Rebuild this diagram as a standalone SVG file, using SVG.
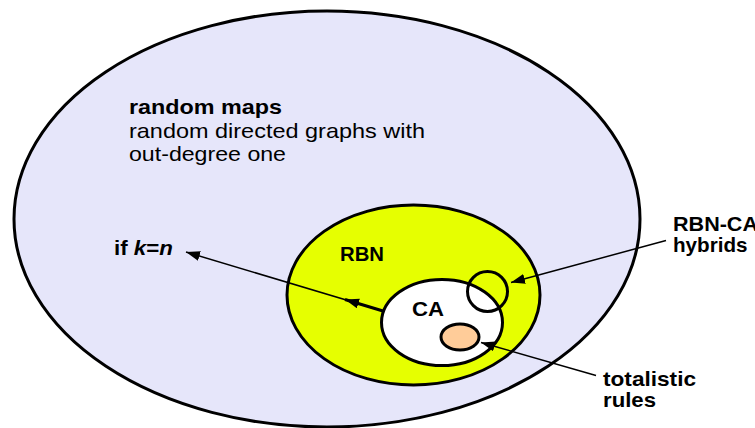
<svg xmlns="http://www.w3.org/2000/svg" width="755" height="428" viewBox="0 0 755 428">
<style>
.sh{stroke:#000;stroke-width:3}
.t{font-family:"Liberation Sans",Arial,sans-serif;font-size:21px;fill:#000}
.b{font-weight:bold}
.ln{stroke:#000;stroke-width:1.5;fill:none}
</style>
<defs>
<marker id="ah" markerUnits="userSpaceOnUse" markerWidth="15" markerHeight="11" refX="14" refY="5" orient="auto">
<path d="M0,0 L14,5 L0,10 z" fill="#000"/>
</marker>
</defs>
<rect width="755" height="428" fill="#fff"/>
<g id="random-maps">
<ellipse class="sh" cx="327" cy="219" rx="313" ry="208" fill="#E6E6FA"/>
<text class="t b" x="129" y="114" textLength="153" lengthAdjust="spacingAndGlyphs">random maps</text>
<text class="t" x="129" y="137.5" textLength="296" lengthAdjust="spacingAndGlyphs">random directed graphs with</text>
<text class="t" x="129" y="161" textLength="157" lengthAdjust="spacingAndGlyphs">out-degree one</text>
</g>
<g id="rbn">
<ellipse class="sh" cx="413.5" cy="295" rx="126.5" ry="90" fill="#E6FF00"/>
<text class="t b" x="340" y="260.5" textLength="44" lengthAdjust="spacingAndGlyphs">RBN</text>
</g>
<g id="ca">
<ellipse class="sh" cx="442" cy="322.5" rx="60.5" ry="43" fill="#fff"/>
<text class="t b" x="412" y="315.5" textLength="32" lengthAdjust="spacingAndGlyphs">CA</text>
</g>
<g id="totalistic">
<ellipse class="sh" cx="460" cy="337" rx="19" ry="13" fill="#FFCC99"/>
<text class="t b" x="603" y="385.5" textLength="93" lengthAdjust="spacingAndGlyphs">totalistic</text>
<text class="t b" x="603" y="406.5" textLength="53" lengthAdjust="spacingAndGlyphs">rules</text>
</g>
<g id="hybrids">
<ellipse class="sh" cx="487.5" cy="291.5" rx="20" ry="20" fill="none"/>
<text class="t b" x="673" y="231" textLength="85" lengthAdjust="spacingAndGlyphs">RBN-CA</text>
<text class="t b" x="673" y="252.3" textLength="74.5" lengthAdjust="spacingAndGlyphs">hybrids</text>
</g>
<g id="if-k-n">
<text class="t b" x="114" y="254.5" textLength="59" lengthAdjust="spacingAndGlyphs">if <tspan font-style="italic">k</tspan>=<tspan font-style="italic">n</tspan></text>
</g>
<g id="connectors">
<line class="ln" x1="383" y1="311" x2="186" y2="252" marker-end="url(#ah)"/>
<line x1="383" y1="311" x2="345" y2="299.5" stroke="#000" stroke-width="3" marker-end="url(#ah)"/>
<line class="ln" x1="666" y1="240.5" x2="511" y2="282.5" marker-end="url(#ah)"/>
<line class="ln" x1="596" y1="375.5" x2="481" y2="342.5" marker-end="url(#ah)"/>
</g>
</svg>
